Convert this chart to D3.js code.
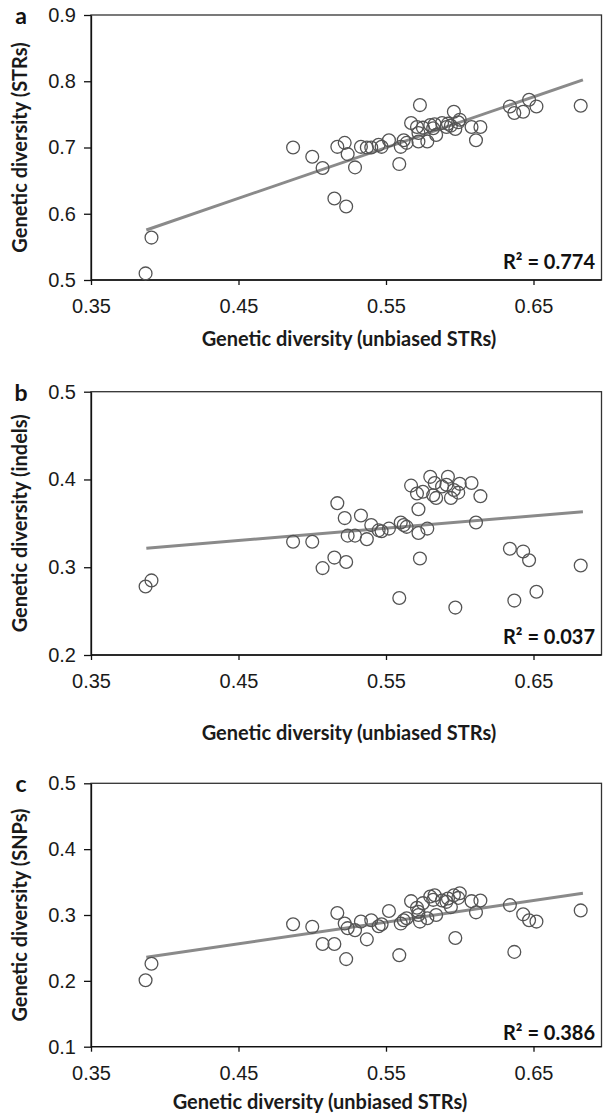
<!DOCTYPE html>
<html>
<head>
<meta charset="utf-8">
<script src="https://cdnjs.cloudflare.com/ajax/libs/d3/7.8.5/d3.min.js"></script>
<style>
  body { margin: 0; background: #fff; }
  svg { display: block; font-family: Lato, "Open Sans", sans-serif; }
  .tick text { font-size: 20px; fill: #1a1a1a; }
  .tick line, .domain { stroke: #111; stroke-width: 1.3; }
  .axis-title { font-size: 20px; font-weight: bold; fill: #1a1a1a; }
  .r2 { font-size: 20px; font-weight: bold; fill: #111; }
  .letter { font-size: 23px; font-weight: bold; fill: #111; }
</style>
</head>
<body>
<script>
var width = 603, height = 1117;

// DATA - genetic diversity of unbiased STRs (x, shared by all panels)
var xDiv = [0.387, 0.391, 0.487, 0.500, 0.507, 0.515, 0.523, 0.517, 0.522, 0.524,
            0.529, 0.533, 0.537, 0.540, 0.545, 0.547, 0.552, 0.559, 0.560, 0.562,
            0.564, 0.567, 0.573, 0.571, 0.572, 0.572, 0.575, 0.578, 0.580, 0.582,
            0.584, 0.583, 0.588, 0.592, 0.591, 0.594, 0.597, 0.596, 0.600, 0.599,
            0.608, 0.611, 0.614, 0.634, 0.637, 0.643, 0.647, 0.652, 0.682]

// panel a - STRs
var yStrs = [0.510, 0.564, 0.700, 0.686, 0.669, 0.623, 0.611, 0.701, 0.707, 0.690,
             0.670, 0.701, 0.700, 0.700, 0.704, 0.701, 0.711, 0.675, 0.701, 0.711,
             0.707, 0.737, 0.764, 0.731, 0.709, 0.722, 0.730, 0.709, 0.734, 0.729,
             0.719, 0.735, 0.737, 0.736, 0.731, 0.733, 0.728, 0.754, 0.742, 0.738,
             0.731, 0.711, 0.731, 0.762, 0.752, 0.754, 0.772, 0.762, 0.763]

// panel b - indels
var yIndels = [0.278, 0.285, 0.329, 0.329, 0.299, 0.311, 0.306, 0.373, 0.356, 0.336,
               0.336, 0.359, 0.332, 0.348, 0.342, 0.341, 0.344, 0.265, 0.351, 0.348,
               0.346, 0.393, 0.310, 0.384, 0.339, 0.366, 0.386, 0.344, 0.403, 0.382,
               0.379, 0.396, 0.392, 0.403, 0.394, 0.379, 0.254, 0.388, 0.395, 0.385,
               0.396, 0.351, 0.381, 0.321, 0.262, 0.318, 0.308, 0.272, 0.302]

// panel c - SNPs
var ySnps = [0.201, 0.226, 0.286, 0.282, 0.256, 0.256, 0.233, 0.303, 0.287, 0.280,
             0.277, 0.290, 0.263, 0.292, 0.283, 0.286, 0.306, 0.239, 0.287, 0.292,
             0.295, 0.321, 0.290, 0.311, 0.300, 0.305, 0.318, 0.295, 0.328, 0.323,
             0.300, 0.330, 0.322, 0.325, 0.320, 0.312, 0.265, 0.330, 0.333, 0.326,
             0.321, 0.304, 0.322, 0.315, 0.244, 0.301, 0.292, 0.290, 0.307]

// trend lines (end points)
var fitX = [0.3875, 0.6835]
var fitStrs = [0.5755, 0.802]
var fitIndels = [0.3216, 0.3633]
var fitSnps = [0.2358, 0.333]

var r2Labels = ['R\u00b2 = 0.774', 'R\u00b2 = 0.037', 'R\u00b2 = 0.386']
var panelLetters = ['a', 'b', 'c']
var yTitles = ['Genetic diversity (STRs)', 'Genetic diversity (indels)', 'Genetic diversity (SNPs)']
var xTitle = 'Genetic diversity (unbiased STRs)'

var xTicks = [0.35, 0.45, 0.55, 0.65]
var yTicksStrs = [0.5, 0.6, 0.7, 0.8, 0.9]
var yTicksIndels = [0.2, 0.3, 0.4, 0.5]
var yTicksSnps = [0.1, 0.2, 0.3, 0.4, 0.5]

// LAYOUT
var left = 91, right = 601.5

var panels = [
  {top: 15, bottom: 280, ys: yStrs, fit: fitStrs, ticks: yTicksStrs,
   titleX: 349, titleY: 346, r2Y: 269},
  {top: 391.7, bottom: 655, ys: yIndels, fit: fitIndels, ticks: yTicksIndels,
   titleX: 349, titleY: 740, r2Y: 644},
  {top: 783.3, bottom: 1046.7, ys: ySnps, fit: fitSnps, ticks: yTicksSnps,
   titleX: 320, titleY: 1109, r2Y: 1040}
]

// COLORS
const markColor = '#545454'
const lineColor = '#8a8a8a'

var x = d3.scaleLinear()
    .domain([0.35, 0.65])
    .range([left, 533.5])

var svg = d3.select('body').append('svg')
    .attr('width', width)
    .attr('height', height)

panels.forEach(function(p, k) {
  var y = d3.scaleLinear()
      .domain(d3.extent(p.ticks))
      .range([p.bottom, p.top])

  var g = svg.append('g')

  // frame (top & right)
  g.append('rect')
      .attr('x', left)
      .attr('y', p.top)
      .attr('width', right - left)
      .attr('height', p.bottom - p.top)
      .attr('fill', 'none')
      .attr('stroke', '#333')
      .attr('stroke-width', 1.3)

  // axes
  g.append('g')
      .attr('transform', `translate(0,${p.bottom})`)
      .call(d3.axisBottom(x).tickValues(xTicks).tickSize(5).tickSizeOuter(0)
              .tickPadding(14).tickFormat(d3.format('.2f')))
      .call(function(a) { a.select('.domain').attr('d', `M${left},0H${right}`) })

  g.append('g')
      .attr('transform', `translate(${left},0)`)
      .call(d3.axisLeft(y).tickValues(p.ticks).tickSize(7).tickSizeOuter(0)
              .tickPadding(8).tickFormat(d3.format('.1f')))

  // regression line
  g.append('line')
      .attr('x1', x(fitX[0]))
      .attr('y1', y(p.fit[0]))
      .attr('x2', x(fitX[1]))
      .attr('y2', y(p.fit[1]))
      .attr('stroke', lineColor)
      .attr('stroke-width', 3)

  // points
  g.selectAll('circle')
      .data(xDiv)
      .enter().append('circle')
          .attr('cx', function(d) { return x(d) })
          .attr('cy', function(d, i) { return y(p.ys[i]) })
          .attr('r', 6.4)
          .attr('fill', 'none')
          .attr('stroke', markColor)
          .attr('stroke-width', 1.3)

  // texts
  g.append('text')
      .attr('class', 'r2')
      .attr('x', 595)
      .attr('y', p.r2Y)
      .attr('text-anchor', 'end')
      .text(r2Labels[k])

  g.append('text')
      .attr('class', 'letter')
      .attr('x', 21)
      .attr('y', p.top + 9)
      .attr('text-anchor', 'middle')
      .text(panelLetters[k])

  g.append('text')
      .attr('class', 'axis-title')
      .attr('transform', `translate(27,${(p.top + p.bottom) / 2}) rotate(-90)`)
      .attr('text-anchor', 'middle')
      .text(yTitles[k])

  g.append('text')
      .attr('class', 'axis-title')
      .attr('x', p.titleX)
      .attr('y', p.titleY)
      .attr('text-anchor', 'middle')
      .text(xTitle)
})
</script>
</body>
</html>
